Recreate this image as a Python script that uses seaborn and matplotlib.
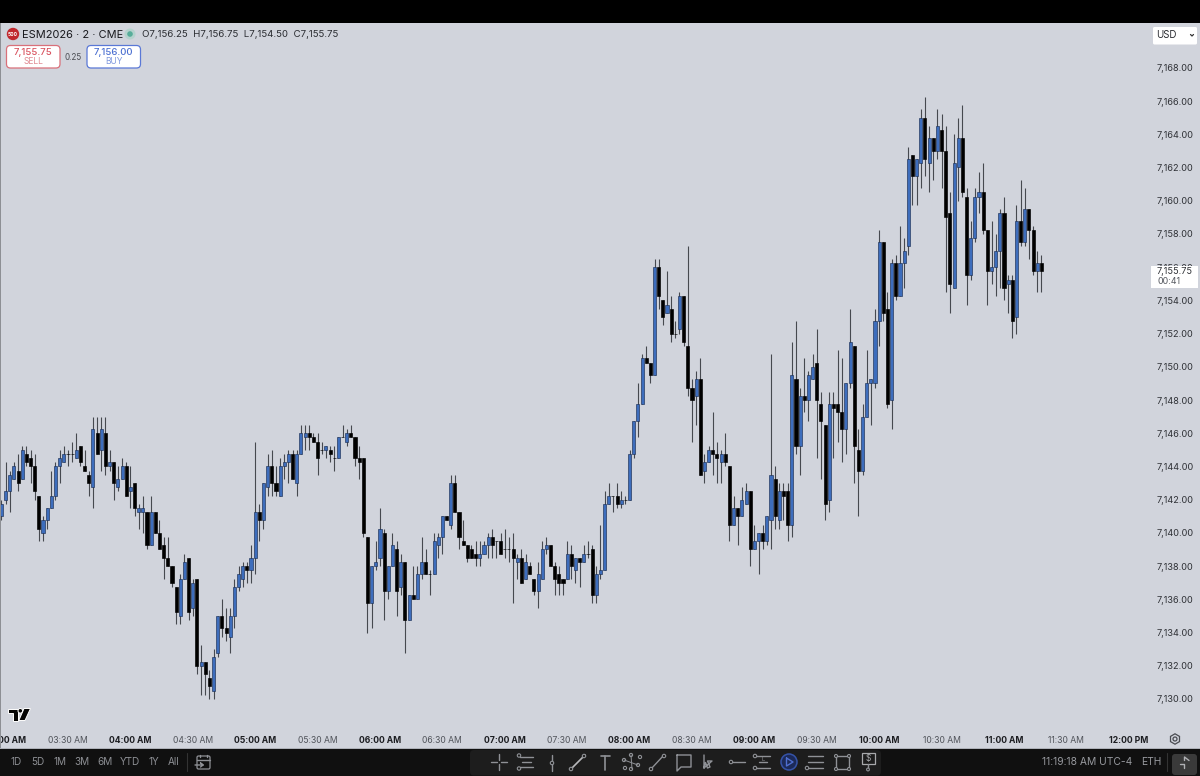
import numpy as np
import pandas as pd
import matplotlib
matplotlib.use('Agg')
import matplotlib.pyplot as plt
from matplotlib.patches import Rectangle, FancyBboxPatch, Circle, Polygon
from matplotlib.ticker import FixedLocator, FuncFormatter
import seaborn as sns

# prices are stored minus BASE, one value per 2 minute candle
BASE = 7100
opens = [41,42,42.5,43.25,43.75,43.25,44.75,44.5,44,42.25,
 40,40.75,41.5,42.25,44,44.25,44.75,44.75,44.5,45.25,
 44,43.5,42.75,46,45,46,44,44.25,42.75,43.25,
 44,42.5,43,41.25,41.25,41.25,39.25,41.25,40,39.25,
 38.5,38,36.75,35,37.25,38.5,35.5,37.25,32,32.25,
 31.25,30.5,32.75,35,34.25,33.75,35,36.75,37.25,38,
 37.75,38.5,41.25,40.75,42.75,44,43,42.25,44,44.25,
 44.75,43,44.75,45.75,46,45.75,45.5,45,45,45,
 44.5,44.5,45.75,45.5,46,45.75,44.5,44.5,39.75,35.75,
 38,38.5,40,36.5,38,39,36.75,38.25,34.75,36.25,
 36,37.5,38.25,37.5,37.5,39.25,39.75,41,40.5,43,
 41.25,39.5,39.25,39,38.75,38.5,38.75,39.25,39.75,39.5,
 39.5,39,39,39,38.25,38.5,37.25,38,37.25,36.5,
 37.25,39,39.25,38,37.5,37.25,37.25,38.75,37.75,38.5,
 38.25,38.75,39,36.25,37.5,37.75,41.75,42.25,42.25,41.75,
 42,42,44.75,46.75,47.75,50.5,50.25,49.5,56,54,
 53.25,53.5,52,52.25,54.25,51.25,48.75,48.25,49.25,43.75,
 44.25,45,44.75,44.25,44.75,44,40.5,41.5,41,41.75,
 42.5,39,39.5,40,39.5,40.75,43.25,40.75,42.5,42.5,
 40.5,49.25,45.25,48.25,48,49.25,50.25,47.75,46.5,42,
 47.75,47.75,47.25,46.25,49,51.25,45,43.75,47,49,
 49,52.75,57.5,53.5,48,56.25,54.25,56.25,57.25,62.75,
 61.5,62.25,65,62.25,63.75,63,64.25,63,59.25,54.75,
 62,63.75,60.25,55.5,57.75,60.25,60.5,58.25,55.75,56,
 57,59.25,55,55.25,53,58.75,57.5,59.5,58.25,55.75,56.25]
highs = [42,44.25,43.75,44.25,44.75,45.25,45.25,45,44.75,42.25,
 41,41.5,43.75,44.25,45,45.25,45,45.5,46,45.25,
 45,43.75,47,47,47,47,45,44.25,44,44.5,
 44.25,44,43,41.75,42.25,41.25,42.25,41.25,40.75,39.75,
 39.75,38,36.75,37.5,38.75,38.5,37.25,37.25,33.25,32.25,
 31.75,33,35,36,35.5,35.5,37.25,38,38.25,38.25,
 39.25,45.5,41.75,43,44.75,45,44,44.5,44.75,45,
 45,45,46.5,46.5,46.5,46,46,45.5,45.25,45.25,
 45.25,45.75,46.5,46.25,46.5,45.75,45.25,44.5,39.75,38,
 39.5,41.5,40.25,38,40,39.5,38.75,38.25,36.25,38,
 38,39.75,39,37.75,40,40,41,41,43.5,43.5,
 41.25,40.75,39.25,39.25,39.5,39.5,39.5,40,40.25,39.5,
 40,40.25,39.75,40,38.75,39,38.75,38.25,37.25,38.25,
 39.5,39.75,39.25,38.25,38,37.25,39.5,39.25,38.5,38.5,
 39.25,39.5,39.25,38,40.5,42.5,43,42.25,43,42.5,
 42.25,45,46.75,49,50.75,51.25,50.25,56.5,56.5,54,
 55.75,54.25,52.75,54.5,54.25,57.25,49.25,49.75,50.5,44.75,
 45.25,47.25,45.5,45,46,44,42.25,41.5,42.75,43,
 42.5,40.5,40,40.5,41,50.75,44,43,43,43,
 51.5,52.75,48.75,50.5,49.75,50.75,52.25,48.5,46.5,48.5,
 48.5,51,50.5,49,53.5,51.25,46.25,47.75,51,49.25,
 53.5,58.25,57.5,54.5,56.5,56.75,58.5,57.75,63.25,62.75,
 62.5,65.5,66.25,64.5,63.75,65.5,65.25,64.5,60.5,64,
 65,65.75,60.75,58.75,60.75,61.75,62.25,58.25,58.75,58,
 59.5,60.25,55.5,55.5,59.75,61.25,60.75,59.5,58.5,57,56.75]
lows = [40.75,41.75,41.25,43.25,42.5,43.25,44,43,42,39.5,
 39.5,40.25,41.5,42,43,44.25,44,44.25,44.5,44,
 43.75,42.25,41.5,44.75,43.75,43.5,43.75,42,42.5,43.25,
 42.25,41.5,41,40.25,40,39,39.25,40,39,37.25,
 38,36.75,34.5,34.5,37.25,34.75,35,31.5,30.25,30.25,
 30,30,32.5,33.75,33.5,32.75,34.25,36.5,36.75,37,
 37,37.5,39.5,40.25,42.25,42.25,42.25,42.25,43.25,43,
 43.25,42.25,44.75,45,45,45.5,43.5,44.75,44.5,44.25,
 43.75,44.5,45.75,45.25,45.75,44,43.25,39.75,34,34.25,
 37.75,38,34.75,36,38,35,36.25,32.75,34.75,36,
 36,37.25,37.5,36.25,37.5,38.5,38.75,40.75,40.25,41.25,
 39,39.25,38.25,38.5,38,38,38.75,38.5,38.5,38.5,
 38.75,38.5,38.25,35.75,37.25,37,37.25,37.5,36.25,35.5,
 37.25,38.75,38,36.25,36.25,36.25,37.25,37.25,37,36.75,
 38.25,38.5,35.75,35.75,37.25,37.75,41.75,41.25,41.5,41.5,
 41.75,42,44.5,45.75,47.75,50.25,49,49.5,53.5,52.5,
 53.25,51.5,51.75,52,51.25,48.25,45.5,46.5,43.5,43,
 44.25,43.5,43,43,44,39.5,40.5,39.25,41,41.75,
 38,39,37.5,39,39.25,39,40.25,40.25,40.75,39.5,
 39.75,44.75,43.5,47.25,46.75,49.25,44.5,43.25,40.75,41.25,
 44.5,45.5,44.25,44.75,48.75,43,41,43.5,47,46.5,
 48.75,51.25,52.75,47.5,46.25,54,54.25,54.75,56.75,59.75,
 59.75,60.75,61.5,60.5,61.25,62.5,60.75,54.5,53.25,54.75,
 60,60.25,53.75,55.25,57.5,59.25,58,53.75,55,54.25,
 54.75,54,53.25,51.75,52,57.25,57.25,56.5,55.5,54.5,54.5]
closes = [41.75,42.5,43.5,44,43,45,44.25,44,42.5,40.25,
 40.75,41.5,42.25,44,44.5,44.75,44.75,44.75,45,44.25,
 43.75,43,46.25,44.75,46.25,44,44.25,43,43.25,44,
 42.25,42.75,41.5,41.5,41.5,39.25,41.25,40,39,38.5,
 38,37,35.25,37.25,38.25,35.25,37,32,32.25,31.5,
 30.75,32.5,35,34.25,34,35,36.75,37.5,38,37.75,
 38.5,41.25,40.75,43,44,43,42.5,44,44.25,44.75,
 43.25,44.75,46,46,45.75,45.5,44.5,45,45.25,44.75,
 44.5,45.75,45.75,46,45.75,44.5,44.25,40,35.75,38,
 38.25,40.25,36.5,38,39.25,36.5,38.25,34.75,36.25,36,
 37.5,38.25,37.5,37.5,39.5,39.75,41,40.75,43,41.25,
 39.75,39.25,38.5,38.5,38.5,38.75,39.25,39.75,39.25,39.5,
 38.75,39,39,38.5,38.5,37,38.25,37.5,36.5,37.5,
 39,39.25,38,37.25,37,37,38.75,38,38.5,38.25,
 38.75,38.75,36.25,37.5,37.75,41.75,42.25,42.25,41.75,42,
 42,44.75,46.75,47.75,50.5,50.25,49.5,56,54.25,53,
 53.75,52,52,54.25,51.5,48.75,48,49.25,43.5,44.25,
 45,44.75,44.5,44.75,44.25,40.5,41.5,41,42,42.5,
 39,39.5,40,39.5,41,43.5,41,42.5,42.25,40.5,
 49.5,45.25,48.25,48,49.5,50,48,46.75,41.75,47.75,
 47.5,47.25,46.25,49,51.5,45.25,43.75,47,49,49.25,
 52.75,57.5,53.25,47.75,56.25,54.25,56.25,57,62.5,61.5,
 62.5,65,62.5,63.75,63,64.5,63,59,55,62.25,
 63.75,60.5,55.5,57.75,60.25,60.5,58.25,55.75,56,57,
 59.25,54.75,55.25,52.75,58.75,57.5,59.5,58.25,55.75,56.25,55.75]

y_ticks = [7130 + 2 * k for k in range(20)]
time_labels = ['03:00 AM', '03:30 AM', '04:00 AM', '04:30 AM', '05:00 AM', '05:30 AM', '06:00 AM',
               '06:30 AM', '07:00 AM', '07:30 AM', '08:00 AM', '08:30 AM', '09:00 AM', '09:30 AM',
               '10:00 AM', '10:30 AM', '11:00 AM', '11:30 AM', '12:00 PM']
time_ticks = [1 + 15 * k for k in range(len(time_labels))]
range_labels = ['1D', '5D', '1M', '3M', '6M', 'YTD', '1Y', 'All']

BG = '#D1D4DC'
UP = '#3D6DBC'
DOWN = '#000000'
DARK = '#101010'
TEXT = '#2f3136'
W, H = 1200, 776

sns.set_theme(style='white', rc={'axes.facecolor': BG, 'figure.facecolor': BG})
plt.rcParams['font.family'] = ['Inter', 'DejaVu Sans']

df = pd.DataFrame({'i': range(len(opens)), 'open': opens, 'high': highs, 'low': lows, 'close': closes})
df[['open', 'high', 'low', 'close']] += BASE
df['top'] = df[['open', 'close']].max(axis=1)
df['bot'] = df[['open', 'close']].min(axis=1)
df['size'] = df['top'] - df['bot']

fig = plt.figure(figsize=(W / 100, H / 100), dpi=100)
ax = fig.add_axes([0, (H - 733) / H, 1150 / W, 710 / H])

ax.vlines(df['i'], df['low'], df['high'], color='#46494f', lw=0.8, zorder=1)
up = df[df['close'] > df['open']]
down = df[df['close'] <= df['open']]
for part, col, edge in [(down, DOWN, '#000000'), (up, UP, '#1c2f55')]:
    sns.barplot(data=part, x='i', y='size', bottom=part['bot'], native_scale=True, color=col, saturation=1,
                width=0.74, edgecolor=edge, linewidth=0.45, errorbar=None, legend=False, ax=ax, zorder=2)

ax.set_xlim(-0.337, 276.1)
ax.set_ylim(7127.95, 7170.7)
ax.set_xlabel('')
ax.set_ylabel('')
for s in ax.spines.values():
    s.set_visible(False)
ax.yaxis.tick_right()
ax.yaxis.set_major_locator(FixedLocator(y_ticks))
ax.yaxis.set_major_formatter(FuncFormatter(lambda v, p: f'{v:,.2f}'))
ax.xaxis.set_major_locator(FixedLocator(time_ticks))
ax.set_xticklabels(time_labels)
ax.tick_params(axis='y', length=0, pad=5, labelsize=6.6, labelcolor=TEXT)
ax.tick_params(axis='x', length=0, pad=1.9, labelsize=6.2, labelcolor='#50535a')
for lab, t in zip(ax.get_xticklabels(), time_labels):
    if t[3:5] == '00':
        lab.set_fontweight('bold')
        lab.set_color('#1c1d21')

# everything around the chart is drawn in pixel coordinates on a clear layer
ov = fig.add_axes([0, 0, 1, 1], facecolor='none')
ov.set_xlim(0, W)
ov.set_ylim(H, 0)
ov.axis('off')


def rect(x, y, w, h, col, z=3):
    ov.add_patch(Rectangle((x, y), w, h, fc=col, ec='none', zorder=z))


def box(x, y, w, h, fc, ec='none', lw=1, r=3, z=4):
    ov.add_patch(FancyBboxPatch((x + r, y + r), w - 2 * r, h - 2 * r, boxstyle=f'round,pad={r}',
                                fc=fc, ec=ec, lw=lw, zorder=z))


def txt(x, y, s, size, col, ha='center', **kw):
    ov.text(x, y, s, fontsize=size, color=col, ha=ha, va='center', zorder=6, **kw)


def seg(xs, ys, col='#8f9196', lw=1.0, z=6):
    ov.plot(xs, ys, color=col, lw=lw, zorder=z, solid_capstyle='round')


def dot(x, y, r=1.7, col='#8f9196', z=6):
    ov.add_patch(Circle((x, y), r, fc='#1c1c1c', ec=col, lw=0.8, zorder=z))


# frame bands
rect(0, 0, W, 23, '#000000')
rect(0, 749, W, 27, DARK)
rect(0, 747.5, W, 1.5, '#aeb1b8')
rect(0, 23, 1.2, 725, '#8d8f94')

# header
ov.add_patch(Circle((13, 34), 6.2, fc='#c0272d', ec='none', zorder=5))
txt(13, 34.2, '500', 3.6, 'white', fontweight='bold')
txt(22, 34.6, 'ESM2026 · 2 · CME', 7.9, '#17181c', ha='left')
ov.add_patch(Circle((130, 34), 5.5, fc='#b5d2cd', ec='none', zorder=5))
ov.add_patch(Circle((130, 34), 2.8, fc='#57ad9a', ec='none', zorder=5))
txt(142, 34.6, 'O7,156.25  H7,156.75  L7,154.50  C7,155.75', 6.95, '#2a2c31', ha='left')
box(6.5, 45.5, 53.5, 22.5, 'white', '#d9707a', lw=0.9, r=4)
txt(33, 52.5, '7,155.75', 6.9, '#d9535f', fontweight='medium')
txt(33, 62, 'SELL', 6.1, '#e08a92')
txt(73, 57, '0.25', 5.8, '#4a4c52')
box(87, 45.5, 53.5, 22.5, 'white', '#5a78d6', lw=0.9, r=4)
txt(113.5, 52.5, '7,156.00', 6.9, '#4b6fd0', fontweight='medium')
txt(113.5, 62, 'BUY', 6.1, '#7f98de')

# price scale widgets
box(1153, 27, 44, 17.5, 'white', r=1.5)
txt(1156, 35.5, 'USD', 7, '#2a2c31', ha='left')
seg([1190.5, 1192, 1193.5], [34.5, 36, 34.5], '#333333', 0.9)
rect(1151, 266, 47, 22, 'white', z=4)
txt(1157, 271.5, '7,155.75', 6.6, TEXT, ha='left')
txt(1157, 282, '00:41', 6.4, '#55585f', ha='left')

# logo
for patch in [Polygon([(8, 708.5), (18, 708.5), (18, 720.5), (12.5, 720.5), (12.5, 713), (8, 713)]),
              Polygon([(24, 708.5), (30.5, 708.5), (25, 720.5), (18.8, 720.5)]),
              Circle((20.3, 710.8), 2.3)]:
    patch.set(fc='#050505', ec='white', lw=0.7, zorder=5)
    ov.add_patch(patch)

# settings gear
ov.add_patch(Polygon([(1175 + 5.2 * np.cos(a), 739 + 5.2 * np.sin(a)) for a in np.radians(range(30, 390, 60))],
                     fc='none', ec='#4a4c52', lw=0.9, zorder=6))
ov.add_patch(Circle((1175, 739), 2, fc='none', ec='#4a4c52', lw=0.9, zorder=6))

# bottom left range buttons
for x, s in zip([16.5, 37.5, 60, 82, 105, 130, 154, 174], range_labels):
    txt(x, 762, s, 7.2, '#8c8e93')
seg([187, 187], [753, 771], '#333333', 0.8)
box(197, 756, 13, 13, 'none', '#8f9196', lw=0.9, r=1.5, z=6)
seg([197, 210], [760, 760])
seg([200, 200], [754.5, 757])
seg([207, 207], [754.5, 757])
seg([195, 203, 200.5, 203, 200.5], [765, 765, 763, 765, 767])

# drawing toolbar
box(470, 750, 411, 25.5, '#1d1d1d', r=4, z=4)
for x in [475, 479]:
    for y in [758, 762, 766]:
        seg([x, x + 0.1], [y, y], '#4e4e4e', 1.2)
seg([491, 497], [762, 762]); seg([501, 507], [762, 762]); seg([499, 499], [754, 760]); seg([499, 499], [764, 770])
seg([520, 533], [757, 757]); seg([520, 533], [767, 767]); seg([522, 531], [762, 762])
dot(519, 755.5); dot(519, 768.5)
seg([552, 552], [755, 771]); dot(552, 763)
seg([571, 585], [769, 755], '#b8b9bc', 1.2); dot(571, 769); dot(584, 756)
seg([600.5, 609.5], [756, 756], lw=1.2); seg([605, 605], [756, 770], lw=1.2)
for p in [(624, 760), (631, 755), (640, 757), (638, 765), (631, 769), (625, 768)]:
    dot(p[0], p[1], 1.6)
seg([631, 632], [755, 769], lw=0.7); seg([624, 638], [760, 765], lw=0.7)
seg([651, 664], [769, 755]); dot(651, 769); dot(664, 756)
seg([677, 691, 691, 681, 677, 677], [755, 755, 767, 767, 771, 755])
seg([704, 704, 712, 707.5, 710, 707.5, 705.5, 704], [755, 768, 761, 761, 767, 768, 762.5, 768])
seg([731, 745], [762, 762]); dot(731, 762)
seg([756, 770], [756, 756]); seg([756, 770], [768, 768]); seg([759, 767], [762, 762])
dot(755, 756); dot(755, 768); txt(763, 759.5, 'L', 4.2, '#8f9196')
ov.add_patch(Circle((789, 762), 8, fc='#1c2a58', ec='#3553a8', lw=1.1, zorder=5))
seg([786.5, 793, 786.5, 786.5], [758, 762, 766, 758], '#4f6fd0', 1.0)
seg([808, 823], [756, 756]); seg([808, 823], [762, 762]); seg([808, 823], [768, 768])
dot(807, 768)
ov.add_patch(Rectangle((836, 756), 13, 13, fc='none', ec='#8f9196', lw=1, zorder=6))
for p in [(836, 756), (849, 756), (836, 769), (849, 769)]:
    dot(p[0], p[1], 1.5)
ov.add_patch(Rectangle((862, 753), 13, 11, fc='none', ec='#a8a9ac', lw=0.9, zorder=6))
txt(868.5, 758.5, '$', 6, '#a8a9ac')
seg([868, 868], [764, 768]); dot(868, 769.5, 1.4)

# bottom right
txt(1087, 762, '11:19:18 AM UTC-4', 7.4, '#97999e')
txt(1151, 762, 'ETH', 7.4, '#97999e')
seg([1166.5, 1166.5], [753, 771], '#333333', 0.8)
box(1172, 754, 25, 21, '#3a3a3a', r=3)
seg([1180, 1184, 1184], [763.5, 763.5, 768], '#b0b1b4', 1.0)
seg([1184.5, 1184.5, 1189], [760.5, 757, 760.5], '#b0b1b4', 1.0)

fig.savefig('out.png', dpi=100, facecolor=BG)
